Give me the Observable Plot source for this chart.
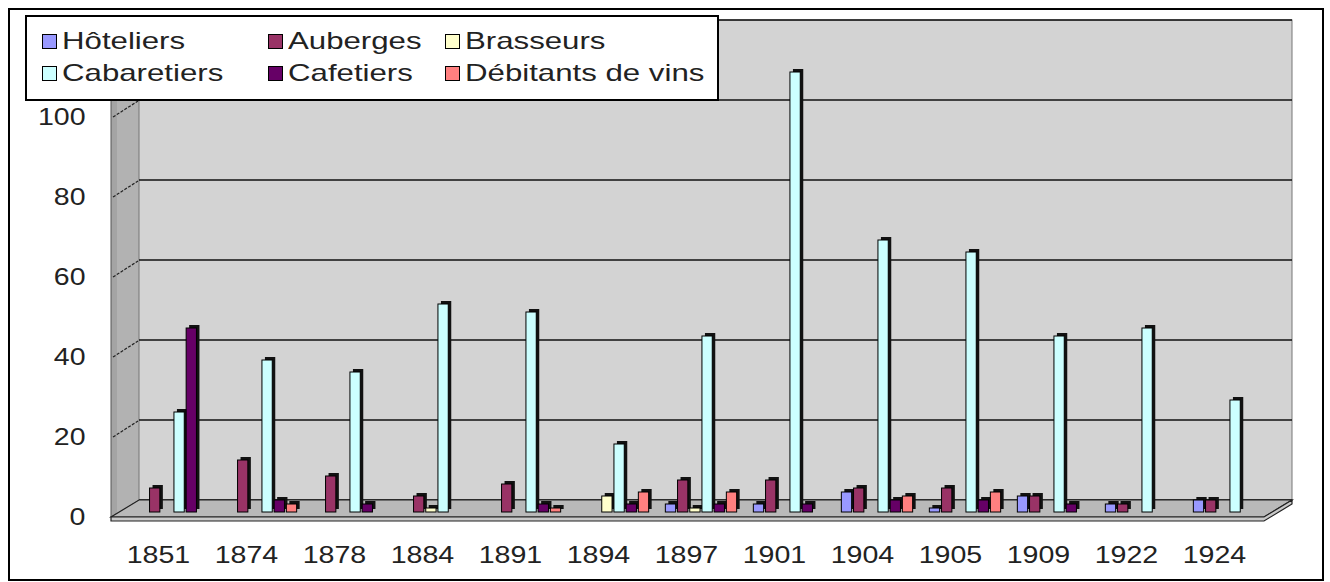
<!DOCTYPE html>
<html><head><meta charset="utf-8">
<script src="https://cdn.jsdelivr.net/npm/d3@7"></script>
<script src="https://cdn.jsdelivr.net/npm/@observablehq/plot@0.6"></script>
<style>
body{margin:0;background:#fff;}
#wrap{position:relative;width:1330px;height:582px;overflow:hidden;font-family:"Liberation Sans",Arial,sans-serif;}
#border{position:absolute;left:8px;top:8px;width:1312px;height:569px;border:2px solid #000;pointer-events:none;}
#legend{position:absolute;left:25px;top:15px;width:694px;height:86px;background:#fff;border:2px solid #000;box-sizing:border-box;}
.item{position:absolute;display:flex;align-items:center;font-size:24px;color:#222;white-space:nowrap;line-height:1;}
.item span{display:inline-block;transform:scaleX(1.3);transform-origin:0 50%;}
.sw{width:15px;height:15px;border:1.5px solid #000;margin-right:5px;box-sizing:border-box;}
</style></head>
<body>
<div id="wrap"><div id="chart"></div><div id="legend"></div><div id="border"></div></div>
<script>
const years = ["1851","1874","1878","1884","1891","1894","1897","1901","1904","1905","1909","1922","1924"];
const categories = ["Hôteliers","Auberges","Brasseurs","Cabaretiers","Cafetiers","Débitants de vins"];
const colors = ["#9999ff","#993366","#ffffcc","#ccffff","#660066","#ff8080"];
const hoteliers   = [0, 0, 0, 0, 0, 0, 2, 2, 5, 1, 4, 2, 3];
const auberges    = [6,13, 9, 4, 7, 0, 8, 8, 6, 6, 4, 2, 3];
const brasseurs   = [0, 0, 0, 1, 0, 4, 1, 0, 0, 0, 0, 0, 0];
const cabaretiers = [25,38,35,52,50,17,44,110,68,65,44,46,28];
const cafetiers   = [46, 3, 2, 0, 2, 2, 2, 2, 3, 3, 2, 0, 0];
const debitants   = [0, 2, 0, 0, 1, 5, 5, 0, 4, 5, 0, 0, 0];
const yTicks = [0,20,40,60,80,100];

const series = [hoteliers, auberges, brasseurs, cabaretiers, cafetiers, debitants];
const rows = categories.flatMap((c,i)=>years.map((y,j)=>({year:y, cat:c, value:series[i][j]})));

const depthX = 30, depthY = 17, base = 12;

const decor = (index, scales, values, dim) => {
  const y = scales.y;
  const x0 = dim.marginLeft, x1 = dim.width - dim.marginRight;
  const g = d3.create("svg:g");
  const yb = y(0), yt = y(120);
  // left wall
  g.append("path").attr("d", `M${x0+2},${yt+depthY}L${x0+depthX},${yt}L${x0+depthX},${yb}L${x0+2},${yb+depthY}Z`)
    .attr("fill","#a4a4a4").attr("stroke","#555");
  g.append("path").attr("d", `M${x0+8},${yt+depthY-3}L${x0+depthX},${yt}L${x0+depthX},${yb}L${x0+8},${yb+depthY-4}Z`)
    .attr("fill","#b2b2b2");
  // back wall
  g.append("rect").attr("x", x0+depthX).attr("y", yt).attr("width", x1-x0).attr("height", yb-yt)
    .attr("fill","#d3d3d3").attr("stroke","#777");
  // gridlines
  for (const v of [...yTicks, 120]) {
    g.append("line").attr("x1", x0+depthX).attr("x2", x1+depthX).attr("y1", y(v)).attr("y2", y(v))
      .attr("stroke","#111").attr("stroke-width",1.6);
    g.append("line").attr("x1", x0+4).attr("y1", y(v)+depthY).attr("x2", x0+depthX-1).attr("y2", y(v)+1)
      .attr("stroke","#222").attr("stroke-width",1.2).attr("stroke-dasharray","3,1.5");
  }
  // floor
  g.append("path").attr("d", `M${x0+2},${yb+depthY}L${x0+depthX},${yb}L${x1+depthX},${yb}L${x1+2},${yb+depthY}Z`)
    .attr("fill","#b9b9b9").attr("stroke","#222").attr("stroke-width",1.2);
  g.append("path").attr("d", `M${x0+2},${yb+depthY}L${x1+2},${yb+depthY}L${x1+depthX},${yb}L${x1+depthX},${yb+4}L${x1+2},${yb+depthY+4}L${x0+2},${yb+depthY+4}Z`)
    .attr("fill","#c8c8c8").attr("stroke","#222").attr("stroke-width",1.2);
  return g.node();
};

const inset = (88.69 - 11) / 2;
const barMarks = categories.flatMap((c,i) => {
  const data = rows.filter(d => d.cat === c && d.value > 0);
  const off = -21 + 12.2*i + 5.5;
  return [
    Plot.barY(data, {x:"year", y:"value", fill:"#111", insetLeft:inset, insetRight:inset, dx:off+3, dy:base-3}),
    Plot.barY(data, {x:"year", y:"value", fill:"cat", stroke:"#000", strokeWidth:1, insetLeft:inset, insetRight:inset, dx:off, dy:base})
  ];
});

const chart = Plot.plot({
  width:1330, height:582,
  marginLeft:109, marginRight:68, marginTop:20, marginBottom:82,
  style:{background:"#fff", fontFamily:"Liberation Sans, Arial, sans-serif"},
  x:{type:"band", domain:years, padding:0},
  y:{domain:[0,120]},
  color:{domain:categories, range:colors},
  marks:[
    decor,
    ...barMarks,
    Plot.axisY({ticks:yTicks, tickSize:0, tickPadding:24, dy:depthY, fontSize:23, fill:"#222", label:null}),
    Plot.axisX({tickSize:0, tickPadding:46, fontSize:23, fill:"#222", label:null})
  ]
});
document.getElementById("chart").appendChild(chart);

// widen axis glyphs like the original rendering
chart.querySelectorAll('g[aria-label="x-axis tick label"] text, g[aria-label="y-axis tick label"] text').forEach(t => {
  const w = t.getComputedTextLength();
  t.setAttribute("textLength", (w * 1.24).toFixed(1));
  t.setAttribute("lengthAdjust", "spacingAndGlyphs");
});

// legend
const legend = d3.select("#legend");
const colLeft = [15, 241, 418];
const rowTop = [12, 44];
categories.forEach((c,i) => {
  const it = legend.append("div").attr("class","item")
    .style("left", colLeft[i%3]+"px").style("top", rowTop[Math.floor(i/3)]+"px");
  it.append("div").attr("class","sw").style("background", colors[i]);
  it.append("span").text(c);
});
</script>
</body></html>
